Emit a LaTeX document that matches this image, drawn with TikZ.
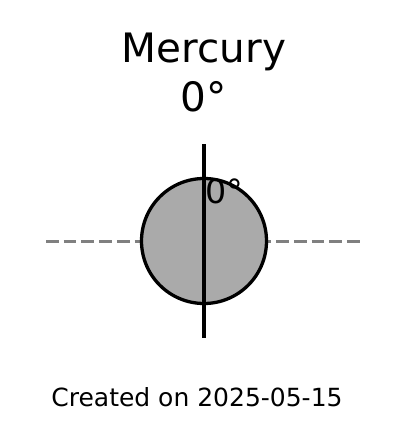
\documentclass[tikz,border=0pt]{standalone}
\usepackage{fontspec}
\setmainfont{DejaVu Sans}
\usepackage{xcolor}
\usepackage{tikz}
\usetikzlibrary{positioning,calc}

\definecolor{planetgray}{RGB}{170,170,170}
\definecolor{equatorgray}{RGB}{128,128,128}

\begin{document}
\begin{tikzpicture}[
    x=1pt, y=-1pt,
    planet/.style={circle, draw=black, fill=planetgray, line width=3.3pt, minimum size=125pt, inner sep=0pt},
    equator/.style={draw=equatorgray, line width=3.2pt, dash pattern=on 12.7pt off 5pt},
    axisline/.style={draw=black, line width=4.2pt},
    title/.style={align=center, inner sep=0pt, font=\fontsize{40.5}{49}\selectfont},
    tiltlabel/.style={inner sep=0pt, font=\fontsize{33.3}{40}\selectfont},
    footer/.style={inner sep=0pt, font=\fontsize{25}{30}\selectfont}
]
\useasboundingbox (0,0) rectangle (408,441);

% equator behind the planet
\coordinate (eqleft) at (46,241.5);
\coordinate (eqright) at (360,241.5);
\draw[equator] (eqleft) -- (eqright);

\node[planet] (planet) at (204,241) {};

% rotation axis
\coordinate (axtop) at (204,144);
\coordinate (axbot) at (204,338);
\draw[axisline] (axtop) -- (axbot);

\node[tiltlabel, anchor=base west] (tilt) at (205.5,203) {0°};

\node[title, anchor=south] (name) at (204,112) {Mercury\\0°};
\node[footer, anchor=base] (created) at (197,406) {Created on 2025-05-15};

\end{tikzpicture}
\end{document}
